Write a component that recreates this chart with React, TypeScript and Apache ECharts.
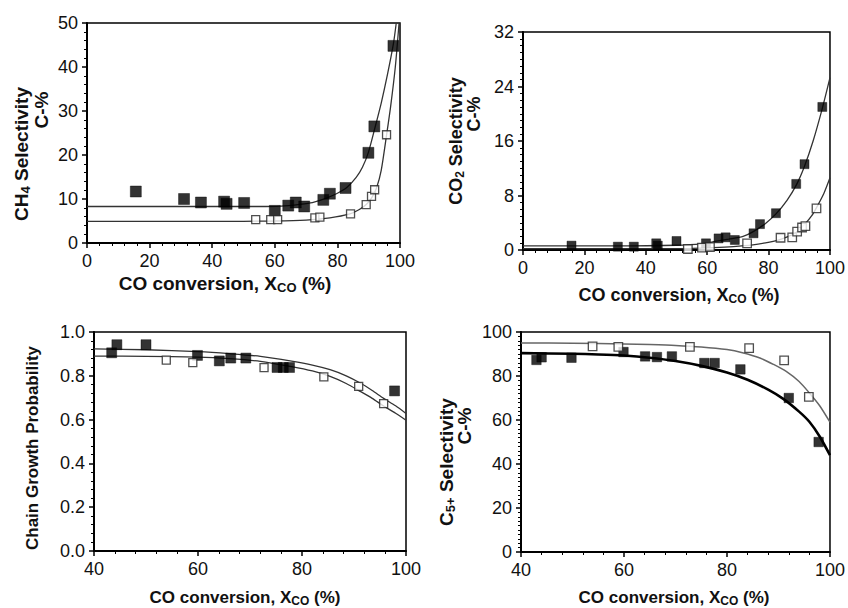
import React, { useEffect, useRef } from "react";
import * as echarts from "echarts";

// ---------- Panel 1: CH4 selectivity ----------
const ch4Filled = [[15.6, 11.7], [31.0, 10.0], [36.4, 9.2], [43.8, 9.4], [44.6, 8.9], [50.2, 9.1], [60.0, 7.3], [64.3, 8.5], [66.7, 9.2], [69.4, 8.3], [75.5, 9.8], [77.6, 11.2], [82.6, 12.5], [89.9, 20.5], [91.8, 26.5], [97.9, 44.8]];
const ch4Open = [[53.9, 5.3], [58.7, 5.3], [60.9, 5.3], [72.8, 5.7], [74.4, 5.9], [84.2, 6.6], [89.2, 8.7], [90.9, 10.6], [91.9, 12.1], [95.7, 24.6]];
const ch4FilledFit = [[0, 8.3], [20, 8.3], [40, 8.3], [55, 8.3], [62, 8.4], [68, 8.8], [72, 9.2], [76.5, 10.2], [80, 11.3], [83, 12.6], [86, 14.9], [88, 17.2], [89.9, 20.6], [92, 26.2], [94, 31.8], [96, 38.3], [97.9, 45.3], [98.8, 50]];
const ch4OpenFit = [[0, 4.9], [40, 4.9], [60, 5.0], [70, 5.2], [77.6, 5.7], [84, 6.6], [87, 7.6], [89.3, 8.8], [91, 10.3], [92.5, 12.5], [94, 16.5], [95.7, 24.5], [97, 31], [98.5, 40], [99.7, 50]];

// ---------- Panel 2: CO2 selectivity ----------
const co2Filled = [[15.8, 0.64], [30.9, 0.49], [36.1, 0.49], [43.4, 0.98], [43.9, 0.64], [50.0, 1.32], [59.6, 0.98], [63.7, 1.7], [66.0, 1.86], [69.0, 1.47], [75.1, 2.45], [77.2, 3.8], [82.4, 5.4], [89.0, 9.7], [91.7, 12.6], [97.5, 21.0]];
const co2Open = [[53.7, 0.15], [58.3, 0.34], [60.9, 0.44], [73.0, 0.98], [83.9, 1.8], [87.7, 1.86], [89.3, 2.7], [90.9, 3.3], [92.0, 3.5], [95.6, 6.1]];
const co2FilledFit = [[0, 0.6], [30, 0.6], [50, 0.7], [58, 0.9], [63, 1.3], [67, 1.6], [71.7, 2.0], [75, 2.7], [79, 3.9], [82.4, 5.3], [86, 7.3], [89.1, 9.6], [91.7, 12.3], [94.5, 16], [97.5, 20.8], [100, 25.3]];
const co2OpenFit = [[0, 0.2], [40, 0.2], [55, 0.25], [62, 0.35], [68.5, 0.5], [74.9, 0.75], [79, 1.05], [83.4, 1.5], [86.5, 2.0], [88.8, 2.5], [92, 3.9], [94, 5.0], [95.7, 6.3], [98, 8.3], [100, 10.6]];

// ---------- Panel 3: chain growth probability ----------
const alphaFilled = [[43.4, 0.905], [44.4, 0.942], [50.0, 0.942], [59.9, 0.893], [64.1, 0.868], [66.3, 0.881], [69.2, 0.881], [75.2, 0.838], [76.4, 0.838], [77.6, 0.838], [97.8, 0.731]];
const alphaOpen = [[53.9, 0.872], [59.0, 0.860], [72.7, 0.837], [84.2, 0.795], [90.9, 0.752], [95.7, 0.673]];
const alphaUpperFit = [[40, 0.923], [50, 0.919], [60, 0.91], [66, 0.901], [72, 0.889], [78, 0.867], [82, 0.849], [85.4, 0.828], [88.5, 0.8], [91.2, 0.767], [93.5, 0.733], [95.7, 0.697], [98, 0.663], [100, 0.628]];
const alphaLowerFit = [[40, 0.89], [50, 0.889], [60, 0.885], [66, 0.878], [72, 0.866], [78, 0.842], [82, 0.822], [85.4, 0.797], [88.5, 0.765], [91.2, 0.729], [93.5, 0.697], [95.7, 0.662], [98, 0.629], [100, 0.597]];

// ---------- Panel 4: C5+ selectivity ----------
const c5Filled = [[43.0, 87.3], [44.0, 88.5], [49.8, 88.3], [59.9, 90.9], [64.1, 88.9], [66.4, 88.6], [69.3, 88.9], [75.6, 85.9], [77.6, 85.9], [82.6, 83.0], [92.0, 70.0], [97.8, 50.0]];
const c5Open = [[53.9, 93.5], [58.9, 93.2], [72.8, 93.2], [84.3, 92.7], [91.1, 87.1], [95.9, 70.5]];
const c5FilledFit = [[40, 90.4], [50, 90.1], [55, 89.8], [60, 89.3], [65, 88.3], [70, 86.8], [75, 84.6], [80, 81.6], [84, 78.3], [88, 73.8], [91, 69.5], [94, 63.8], [96, 59.2], [98, 52.5], [100, 44]];
const c5OpenFit = [[40, 95], [50, 94.9], [60, 94.6], [65, 94.3], [70, 93.9], [75, 93.2], [80, 92], [83, 90.6], [86.4, 88.2], [89, 85.3], [91.5, 82.1], [94, 77.5], [96, 72.3], [98, 66.5], [100, 59]];

// ---------- Axis settings ----------
const xRanges = [[0, 100, 20], [0, 100, 20], [40, 100, 20], [40, 100, 20]];
const yRanges = [[0, 50, 10], [0, 32, 8], [0, 1, 0.2], [0, 100, 20]];
const yMinorSplits = [5, 8, 5, 10];
const xTitle = "CO conversion, X{sub|CO} (%)";

const FONT = "Liberation Sans, Arial, sans-serif";

function xAxisCfg(i: number, fontSize: number) {
  const [min, max, interval] = xRanges[i];
  return {
    type: "value",
    gridIndex: i,
    min,
    max,
    interval,
    axisLine: { show: true, onZero: false, lineStyle: { color: "#000", width: 2 } },
    axisTick: { show: true, length: 5, lineStyle: { color: "#000", width: 1.5 } },
    minorTick: { show: true, splitNumber: 5, length: 3, lineStyle: { color: "#000", width: 1 } },
    splitLine: { show: false },
    minorSplitLine: { show: false },
    axisLabel: { color: "#111", fontSize, fontFamily: FONT, margin: 9 },
  };
}

function yAxisCfg(i: number, fontSize: number, formatter?: (v: number) => string) {
  const [min, max, interval] = yRanges[i];
  return {
    type: "value",
    gridIndex: i,
    min,
    max,
    interval,
    axisLine: { show: true, onZero: false, lineStyle: { color: "#000", width: 2 } },
    axisTick: { show: true, length: 5, lineStyle: { color: "#000", width: 1.5 } },
    minorTick: { show: true, splitNumber: yMinorSplits[i], length: 3, lineStyle: { color: "#000", width: 1 } },
    splitLine: { show: false },
    minorSplitLine: { show: false },
    axisLabel: { color: "#111", fontSize, fontFamily: FONT, margin: 9, formatter },
  };
}

function scatter(i: number, data: number[][], filled: boolean, size: number) {
  return {
    type: "scatter",
    xAxisIndex: i,
    yAxisIndex: i,
    data,
    symbol: "rect",
    symbolSize: size,
    z: 5,
    itemStyle: filled
      ? { color: "#000", borderColor: "#000", borderWidth: 0.5 }
      : { color: "#fff", borderColor: "#222", borderWidth: 1.3 },
  };
}

function fit(i: number, data: number[][], color: string, width: number) {
  return {
    type: "line",
    xAxisIndex: i,
    yAxisIndex: i,
    data,
    showSymbol: false,
    symbol: "none",
    smooth: 0.25,
    z: 3,
    lineStyle: { color, width },
  };
}

const subRich = (size: number) => ({
  sub: { fontSize: Math.round(size * 0.68), fontWeight: "bold", fontFamily: FONT, fill: "#111", padding: [Math.round(size * 0.45), 0, 0, 0] },
});

function title(x: number, y: number, text: string, size: number, vertical: boolean) {
  return {
    type: "text",
    x,
    y,
    rotation: vertical ? Math.PI / 2 : 0,
    z: 10,
    style: {
      text,
      fill: "#111",
      font: `bold ${size}px ${FONT}`,
      fontSize: size,
      fontWeight: "bold",
      fontFamily: FONT,
      textAlign: "center",
      textVerticalAlign: "middle",
      align: "center",
      verticalAlign: "middle",
      rich: subRich(size),
    },
  };
}

export default function App() {
  const ref = useRef<HTMLDivElement>(null);
  useEffect(() => {
    if (!ref.current) return;
    const chart = echarts.init(ref.current, undefined, { renderer: "svg" });
    chart.setOption({
      animation: false,
      backgroundColor: "#fff",
      grid: [
        { left: 87, top: 23, width: 313, height: 220, show: true, borderColor: "#000", borderWidth: 1.5 },
        { left: 523, top: 32, width: 312, height: 218, show: true, borderColor: "#000", borderWidth: 1.5 },
        { left: 94, top: 332, width: 312, height: 219, show: true, borderColor: "#000", borderWidth: 1.5 },
        { left: 521, top: 332, width: 313, height: 220, show: true, borderColor: "#000", borderWidth: 1.5 },
      ],
      xAxis: [xAxisCfg(0, 18), xAxisCfg(1, 18), xAxisCfg(2, 18), xAxisCfg(3, 18)],
      yAxis: [
        yAxisCfg(0, 18),
        yAxisCfg(1, 18),
        yAxisCfg(2, 18, (v: number) => v.toFixed(1)),
        yAxisCfg(3, 18),
      ],
      series: [
        fit(0, ch4FilledFit, "#333", 1.3),
        fit(0, ch4OpenFit, "#333", 1.3),
        scatter(0, ch4Filled, true, 11),
        scatter(0, ch4Open, false, 8),

        fit(1, co2FilledFit, "#333", 1.3),
        fit(1, co2OpenFit, "#333", 1.3),
        scatter(1, co2Filled, true, 9),
        scatter(1, co2Open, false, 8.5),

        fit(2, alphaUpperFit, "#333", 1.3),
        fit(2, alphaLowerFit, "#333", 1.3),
        scatter(2, alphaFilled, true, 10),
        scatter(2, alphaOpen, false, 8),

        fit(3, c5FilledFit, "#000", 2.6),
        fit(3, c5OpenFit, "#666", 1.5),
        scatter(3, c5Filled, true, 9.5),
        scatter(3, c5Open, false, 8.5),
      ],
      graphic: [
        title(225, 283, xTitle, 19, false),
        title(679, 295, xTitle, 18, false),
        title(245, 597, xTitle, 17, false),
        title(674, 597, xTitle, 17, false),

        title(21, 154, "CH{sub|4} Selectivity", 19, true),
        title(41, 110, "C-%", 19, true),
        title(456, 141, "CO{sub|2} Selectivity", 18, true),
        title(474, 114, "C-%", 18, true),
        title(32, 448, "Chain Growth Probability", 17, true),
        title(446, 462, "C{sub|5+} Selectivity", 19, true),
        title(464, 426, "C-%", 19, true),
      ],
    });
    return () => chart.dispose();
  }, []);
  return (
    <div
      ref={ref}
      style={{ position: "fixed", left: 0, top: 0, width: 848, height: 608, background: "#fff" }}
    />
  );
}
